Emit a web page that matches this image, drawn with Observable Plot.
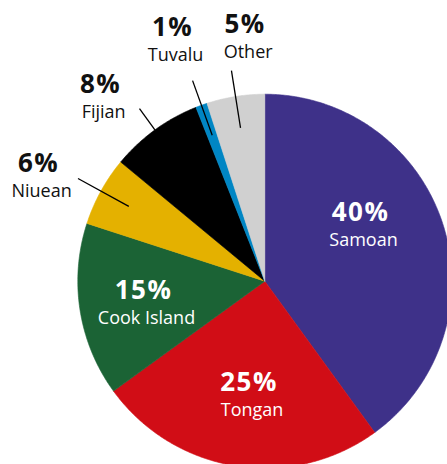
<!DOCTYPE html>
<html>
<head>
<meta charset="utf-8">
<script src="https://cdn.jsdelivr.net/npm/d3@7"></script>
<script src="https://cdn.jsdelivr.net/npm/@observablehq/plot@0.6"></script>
<style>
  html, body { margin: 0; padding: 0; background: #fff; }
  #chart svg { display: block; }
  #chart g[font-weight="bold"] text { letter-spacing: 1.5px; }
</style>
</head>
<body>
<div id="chart"></div>
<script>
// ---- data ----
const categories = ["Samoan", "Tongan", "Cook Island", "Niuean", "Fijian", "Tuvalu", "Other"];
const shares = [40, 25, 15, 6, 8, 1, 5];
const colors = ["#3e3189", "#d10d16", "#1b6335", "#e4b100", "#000000", "#0086c4", "#d0d0d0"];
const outsideLabels = ["Niuean", "Fijian", "Tuvalu", "Other"];

// ---- layout ----
const W = 447, H = 464;
const CX = 264.3, CY = 280.7, R = 187; // pie centre / radius in pixels
// label placement: angle nudge (deg) from slice mid-angle, radius as fraction of R
const labelLayout = {
  "Samoan": [-14, 0.61],
  "Tongan": [-1.3, 0.59],
  "Cook Island": [0.8, 0.65],
  "Niuean": [-2.9, 1.339],
  "Fijian": [-5, 1.33],
  "Tuvalu": [-0.6, 1.399],
  "Other": [4.7, 1.331]
};
const leaderInner = 0.83, leaderOuter = 1.14;

// ---- geometry derived from the data ----
const total = d3.sum(shares);
const rad = (deg) => deg * Math.PI / 180;
const polar = (deg, r) => ({ x: r * Math.sin(rad(deg)), y: r * Math.cos(rad(deg)) });

let acc = 0;
const slices = categories.map((c, i) => {
  const a0 = acc / total * 360;
  acc += shares[i];
  const a1 = acc / total * 360;
  return { cat: c, share: shares[i], a0, a1, mid: (a0 + a1) / 2, color: colors[i] };
});

const slicePts = [];
for (const s of slices) {
  slicePts.push({ cat: s.cat, ...polar(0, 0) });
  const n = Math.max(2, Math.ceil((s.a1 - s.a0) / 0.5));
  for (let k = 0; k <= n; k++) {
    const a = s.a0 + (s.a1 - s.a0) * k / n;
    slicePts.push({ cat: s.cat, ...polar(a, 1) });
  }
  slicePts.push({ cat: s.cat, ...polar(0, 0) });
}

const leaders = slices.filter(s => outsideLabels.includes(s.cat)).map(s => {
  const p1 = polar(s.mid, leaderInner), p2 = polar(s.mid, leaderOuter);
  return { cat: s.cat, x1: p1.x, y1: p1.y, x2: p2.x, y2: p2.y };
});

const labels = slices.map(s => {
  const [nudge, r] = labelLayout[s.cat];
  const p = polar(s.mid + nudge, r);
  const inside = !outsideLabels.includes(s.cat);
  return { cat: s.cat, pct: s.share + "%", x: p.x, y: p.y, fill: inside ? "#ffffff" : "#111111" };
});

const chart = Plot.plot({
  width: W,
  height: H,
  margin: 0,
  x: { domain: [-CX / R, (W - CX) / R], axis: null },
  y: { domain: [-(H - CY) / R, CY / R], axis: null },
  color: { domain: categories, range: colors },
  style: { background: "#fff" },
  marks: [
    Plot.line(slicePts, { x: "x", y: "y", z: "cat", fill: "cat", stroke: "cat", strokeWidth: 0.6, curve: "linear" }),
    Plot.link(leaders, { x1: "x1", y1: "y1", x2: "x2", y2: "y2", stroke: "#000", strokeWidth: 1.3 }),
    Plot.text(labels, {
      x: "x", y: "y", text: "pct", fill: "fill", dx: -1,
      fontSize: 26, fontWeight: "bold", fontFamily: "Open Sans",
      textAnchor: "middle", lineAnchor: "bottom"
    }),
    Plot.text(labels, {
      x: "x", y: "y", text: "cat", fill: "fill", dy: 25, dx: 2,
      fontSize: 18, fontFamily: "Open Sans",
      textAnchor: "middle", lineAnchor: "bottom"
    })
  ]
});
document.getElementById("chart").appendChild(chart);
</script>
</body>
</html>
